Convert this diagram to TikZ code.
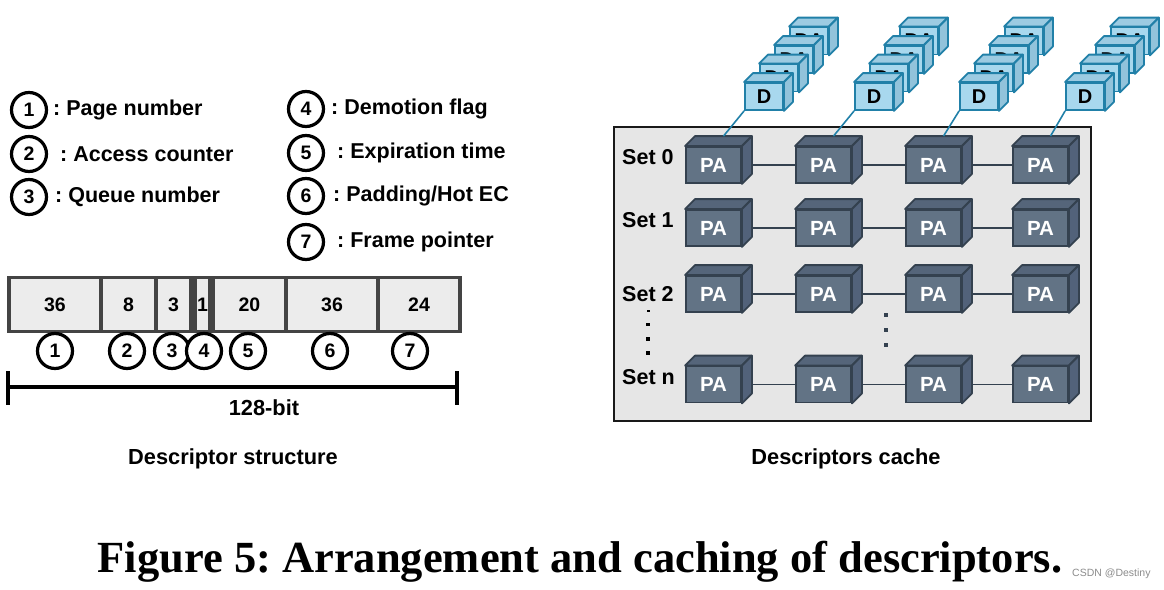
\documentclass[tikz,border=0pt]{standalone}
\usepackage{fontspec}
\setmainfont{Liberation Sans}
\newfontfamily\capfont{Liberation Serif}
\usetikzlibrary{calc}
\definecolor{pafront}{HTML}{627385}
\definecolor{patop}{HTML}{55657A}
\definecolor{paside}{HTML}{52627A}
\definecolor{paline}{HTML}{34414F}
\definecolor{dfront}{HTML}{A8D8EE}
\definecolor{dtop}{HTML}{9CCBE2}
\definecolor{dside}{HTML}{92C3DB}
\definecolor{dline}{HTML}{2180A8}
\definecolor{panelfill}{HTML}{E6E6E6}
\definecolor{fieldfill}{HTML}{ECECEC}
\definecolor{fieldline}{HTML}{444444}
\newcommand{\cubesides}[5]{%
  \path (#1.north west) ++(#2,-#2) coordinate (#1-a)
        (#1.north east) ++(#2,-#2) coordinate (#1-b)
        (#1.south east) ++(#2,-#2) coordinate (#1-c);
  \filldraw[fill=#3, draw=#5, line width=1.8pt, line join=round] (#1.north west) -- (#1-a) -- (#1-b) -- (#1.north east) -- cycle;
  \filldraw[fill=#4, draw=#5, line width=1.8pt, line join=round] (#1.north east) -- (#1-b) -- (#1-c) -- (#1.south east) -- cycle;
}
\frenchspacing
\begin{document}
\begin{tikzpicture}[x=1pt,y=-1pt,
  lbl/.style={font=\fontsize{21.5}{24}\selectfont\bfseries, anchor=west, inner sep=0pt},
  numc/.style={circle, draw=black, line width=3.2pt, fill=white, minimum size=35pt, inner sep=0pt, font=\fontsize{19.5}{22}\selectfont\bfseries},
  field/.style={draw=fieldline, fill=fieldfill, line width=3.5pt, minimum height=54pt, inner sep=0pt, font=\fontsize{19.5}{22}\selectfont\bfseries},
  pa/.style={draw=paline, fill=pafront, line width=1.8pt, minimum width=55pt, minimum height=36pt, inner sep=0pt, text=white, font=\fontsize{20.5}{22}\selectfont\bfseries},
  dc/.style={draw=dline, fill=dfront, line width=1.8pt, minimum width=38pt, minimum height=27pt, inner sep=0pt, font=\fontsize{20}{22}\selectfont\bfseries},
  link/.style={draw=paline, line width=1.5pt},
  dlink/.style={draw=dline, line width=1.6pt},
  title/.style={font=\fontsize{21.8}{24}\selectfont\bfseries, inner sep=0pt},
  setlbl/.style={font=\fontsize{21.5}{24}\selectfont\bfseries, anchor=west, inner sep=0pt},
  dotsq/.style={fill=black, minimum size=3.5pt, inner sep=0pt}
]
\useasboundingbox (0,0) rectangle (1164,589);
\fill[white] (0,0) rectangle (1164,589);

% ---------- legend ----------
\node[numc] (l1) at (29,110) {1};
\node[numc] (l2) at (29,154) {2};
\node[numc] (l3) at (29,197) {3};
\node[lbl] (t1) at (53,110) {: Page number};
\node[lbl] (t2) at (60,154) {: Access counter};
\node[lbl] (t3) at (55,197) {: Queue number};
\node[numc] (l4) at (306,109) {4};
\node[numc] (l5) at (306,153) {5};
\node[numc] (l6) at (306,196) {6};
\node[numc] (l7) at (306,242) {7};
\node[lbl] (t4) at (331,109) {: Demotion flag};
\node[lbl] (t5) at (337,153) {: Expiration time};
\node[lbl] (t6) at (333,196) {: Padding/Hot EC};
\node[lbl] (t7) at (337,242) {: Frame pointer};

% ---------- descriptor fields ----------
\node[field, minimum width=92pt] (b1) at (55,304.5) {36};
\node[field, minimum width=55pt] (b2) at (128.5,304.5) {8};
\node[field, minimum width=35pt] (b3) at (173.5,304.5) {3};
\node[field, minimum width=15pt] (b4) at (202.5,304.5) {1};
\node[field, minimum width=73pt] (b5) at (249.5,304.5) {20};
\node[field, minimum width=92pt] (b6) at (332,304.5) {36};
\node[field, minimum width=82pt] (b7) at (419,304.5) {24};

\node[numc] (c1) at (55,351) {1};
\node[numc] (c2) at (127,351) {2};
\node[numc] (c3) at (172,351) {3};
\node[numc] (c4) at (204,351) {4};
\node[numc] (c5) at (248,351) {5};
\node[numc] (c6) at (330,351) {6};
\node[numc] (c7) at (410,351) {7};

\coordinate (w0) at (8,387);
\coordinate (w1) at (457,387);
\draw[line width=3.2pt] (w0) -- (w1);
\draw[line width=3.2pt] ([yshift=16pt]w0) -- ([yshift=-18pt]w0);
\draw[line width=3.2pt] ([yshift=16pt]w1) -- ([yshift=-18pt]w1);
\node[title] (bits) at (264,408) {128-bit};

\node[title] (dstitle) at (233,459) {Descriptor structure};

% ---------- cache panel ----------
\node[draw=black!90, fill=panelfill, line width=2pt, minimum width=477pt, minimum height=294pt, inner sep=0pt] (panel) at (852.5,274) {};

\node[setlbl] (s0) at (622,157) {Set 0};
\node[setlbl] (s1) at (622,220) {Set 1};
\node[setlbl] (s2) at (622,294) {Set 2};
\node[setlbl] (sn) at (622,377) {Set n};

\node[dotsq, minimum width=3pt, minimum height=2pt] (v0) at (648,311) {};
\node[dotsq] (v1) at (648,324.5) {};
\node[dotsq] (v2) at (648,339) {};
\node[dotsq] (v3) at (648,353) {};
\node[dotsq, fill=paline] (m1) at (886,315) {};
\node[dotsq, fill=paline] (m2) at (886,330) {};
\node[dotsq, fill=paline] (m3) at (886,345) {};

% PA cubes
\foreach \r/\y in {0/165,1/228,2/294,3/384.5}{
  \foreach \c/\x in {0/713.5,1/823.5,2/933.5,3/1040.5}{
    \node[pa] (p\r\c) at (\x,\y) {PA};
    \cubesides{p\r\c}{10}{patop}{paside}{paline}
  }
  \foreach \c/\n in {0/1,1/2,2/3}{
    \draw[link] ([xshift=10pt]p\r\c.east) -- (p\r\n.west);
  }
}

% D stacks
\foreach \c/\dx in {0/764,1/874,2/979,3/1085}{
  \foreach \k in {3,2,1}{
    \node[dc] (s\c-\k) at ({\dx+15*\k},{96.5-18.5*\k}) {DA};
    \cubesides{s\c-\k}{9}{dtop}{dside}{dline}
  }
  \node[dc] (d\c) at (\dx,96.5) {D};
  \cubesides{d\c}{9}{dtop}{dside}{dline}
  \draw[dlink] (d\c.south west) -- ($(p0\c-a)!0.5!(p0\c-b)$);
}

\node[title] (dctitle) at (846,459) {Descriptors cache};

% ---------- caption ----------
\node[anchor=base, inner sep=0pt, font=\capfont\fontsize{44.5}{50}\selectfont\bfseries] (cap) at (580,572) {Figure 5: Arrangement and caching of descriptors.};
\node[anchor=west, inner sep=0pt, text=black!45, font=\fontsize{10.5}{13}\selectfont] (wm) at (1072,574) {CSDN @Destiny};
\end{tikzpicture}
\end{document}
